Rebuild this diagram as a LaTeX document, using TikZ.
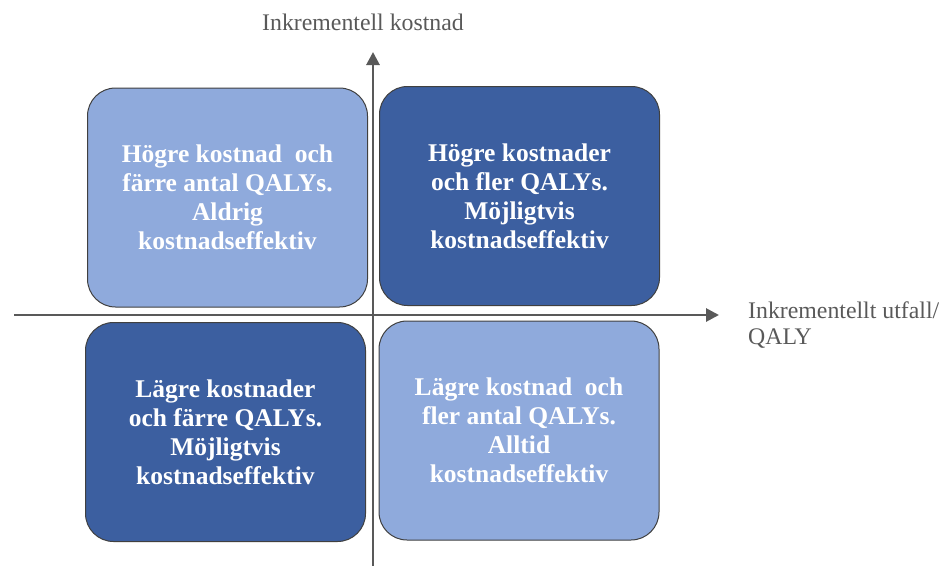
\documentclass[tikz,border=0pt]{standalone}
\usepackage{fontspec}
\setmainfont{Liberation Serif}
\usetikzlibrary{arrows.meta}
\definecolor{LightClr}{RGB}{143,170,220}
\definecolor{DarkClr}{RGB}{60,95,160}
\definecolor{AxisClr}{RGB}{89,89,89}

\begin{document}
\begin{tikzpicture}[x=1pt,y=-1pt,
  quad/.style={draw=black!75,line width=1pt,rounded corners=28pt,
    minimum width=280pt,minimum height=219pt,align=center,text=white,
    font=\fontsize{25.5}{29}\selectfont\bfseries},
  light/.style={quad,fill=LightClr},
  dark/.style={quad,fill=DarkClr},
  axis/.style={draw=AxisClr,line width=2.8pt,-{Triangle[length=13pt,width=13pt]}},
  axlabel/.style={text=AxisClr,font=\fontsize{23.8}{26}\selectfont}]
\useasboundingbox (0,0) rectangle (939,565);

\node[light] (hc) at (227.5,197.5) {Högre kostnad\ \ och\\färre antal QALYs.\\Aldrig\\kostnadseffektiv};
\node[dark] (hk) at (519.5,196) {Högre kostnader\\och fler QALYs.\\Möjligtvis\\kostnadseffektiv};
\node[dark] (lk) at (225.5,432) {Lägre kostnader\\och färre QALYs.\\Möjligtvis\\kostnadseffektiv};
\node[light] (lc) at (519,430.5) {Lägre kostnad\ \ och\\fler antal QALYs.\\Alltid\\kostnadseffektiv};

\coordinate (ybot) at (373,566);
\coordinate (ytop) at (373,52);
\coordinate (xleft) at (14,315);
\coordinate (xright) at (719,315);
\draw[axis] (xleft) -- (xright);
\draw[axis] (ybot) -- (ytop);

\node[axlabel] (ylab) at (363,22) {Inkrementell kostnad};
\node[axlabel,anchor=west,align=left,inner sep=0pt] (xlab) at (748,325) {Inkrementellt utfall/\\QALY};

\end{tikzpicture}
\end{document}
